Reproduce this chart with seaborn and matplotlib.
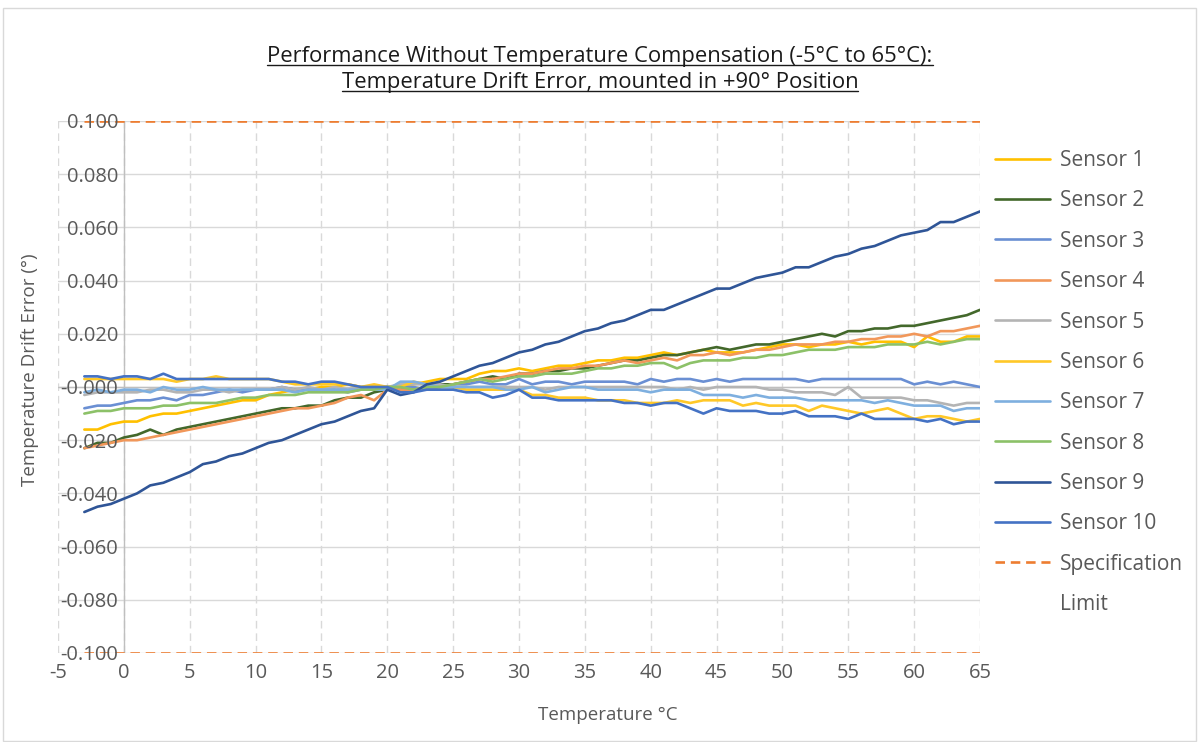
import matplotlib
matplotlib.use("Agg")
import matplotlib.pyplot as plt
from matplotlib.lines import Line2D
from matplotlib.patches import Rectangle
import seaborn as sns
import pandas as pd

# ---------------- data ----------------
temperature = list(range(-3, 66))

sensor_1 = [-0.016, -0.016, -0.014, -0.013, -0.013, -0.011, -0.010, -0.010, -0.009, -0.008,
            -0.007, -0.006, -0.005, -0.005, -0.003, -0.002, -0.001, -0.001, 0.000, 0.000,
            0.001, 0.000, 0.000, 0.000, 0.000, 0.001, 0.002, 0.003, 0.003, 0.003,
            0.005, 0.006, 0.006, 0.007, 0.006, 0.007, 0.008, 0.008, 0.009, 0.010,
            0.010, 0.011, 0.011, 0.012, 0.013, 0.012, 0.013, 0.014, 0.013, 0.013,
            0.013, 0.014, 0.015, 0.016, 0.016, 0.015, 0.016, 0.016, 0.017, 0.016,
            0.017, 0.017, 0.017, 0.015, 0.019, 0.017, 0.017, 0.019, 0.019]
sensor_2 = [-0.023, -0.021, -0.021, -0.019, -0.018, -0.016, -0.018, -0.016, -0.015, -0.014,
            -0.013, -0.012, -0.011, -0.010, -0.009, -0.008, -0.008, -0.007, -0.007, -0.005,
            -0.004, -0.004, -0.002, -0.001, -0.001, -0.001, 0.000, 0.001, 0.001, 0.002,
            0.003, 0.004, 0.003, 0.005, 0.005, 0.006, 0.006, 0.007, 0.007, 0.008,
            0.009, 0.010, 0.010, 0.011, 0.012, 0.012, 0.013, 0.014, 0.015, 0.014,
            0.015, 0.016, 0.016, 0.017, 0.018, 0.019, 0.020, 0.019, 0.021, 0.021,
            0.022, 0.022, 0.023, 0.023, 0.024, 0.025, 0.026, 0.027, 0.029]
sensor_3 = [-0.008, -0.007, -0.007, -0.006, -0.005, -0.005, -0.004, -0.005, -0.003, -0.003,
            -0.002, -0.001, -0.002, -0.001, -0.001, 0.000, -0.001, -0.001, -0.001, -0.001,
            -0.002, -0.001, 0.000, 0.000, 0.000, 0.000, -0.001, 0.000, 0.001, 0.001,
            0.002, 0.001, 0.001, 0.003, 0.001, 0.002, 0.002, 0.001, 0.002, 0.002,
            0.002, 0.002, 0.001, 0.003, 0.002, 0.003, 0.003, 0.002, 0.003, 0.002,
            0.003, 0.003, 0.003, 0.003, 0.003, 0.002, 0.003, 0.003, 0.003, 0.003,
            0.003, 0.003, 0.003, 0.001, 0.002, 0.001, 0.002, 0.001, 0.000]
sensor_4 = [-0.023, -0.022, -0.021, -0.020, -0.020, -0.019, -0.018, -0.017, -0.016, -0.015,
            -0.014, -0.013, -0.012, -0.011, -0.010, -0.009, -0.008, -0.008, -0.007, -0.006,
            -0.004, -0.003, -0.005, -0.001, -0.001, -0.001, 0.000, 0.000, 0.001, 0.002,
            0.003, 0.003, 0.004, 0.005, 0.005, 0.006, 0.007, 0.007, 0.008, 0.008,
            0.009, 0.010, 0.009, 0.010, 0.011, 0.010, 0.012, 0.012, 0.013, 0.012,
            0.013, 0.014, 0.014, 0.015, 0.016, 0.016, 0.016, 0.017, 0.017, 0.018,
            0.018, 0.019, 0.019, 0.020, 0.019, 0.021, 0.021, 0.022, 0.023]
sensor_5 = [-0.003, -0.002, -0.002, -0.002, -0.002, -0.001, -0.001, -0.002, -0.002, -0.001,
            -0.001, -0.002, -0.001, -0.001, -0.001, 0.000, -0.001, 0.000, -0.001, 0.000,
            -0.001, 0.000, 0.000, 0.000, 0.001, 0.001, 0.001, 0.001, 0.000, 0.000,
            0.000, 0.000, 0.000, 0.000, 0.000, -0.001, 0.000, 0.000, 0.000, 0.000,
            0.000, 0.000, 0.000, 0.000, 0.000, -0.001, 0.000, -0.001, 0.000, 0.000,
            0.000, 0.000, -0.001, -0.001, -0.002, -0.002, -0.002, -0.003, 0.000, -0.004,
            -0.004, -0.004, -0.004, -0.005, -0.005, -0.006, -0.007, -0.006, -0.006]
sensor_6 = [0.003, 0.003, 0.003, 0.003, 0.003, 0.003, 0.003, 0.002, 0.003, 0.003,
            0.004, 0.003, 0.003, 0.003, 0.003, 0.002, 0.001, 0.001, 0.001, 0.001,
            0.001, 0.000, 0.001, 0.000, 0.000, 0.002, 0.001, 0.000, 0.000, -0.001,
            -0.001, -0.001, -0.001, -0.001, -0.003, -0.003, -0.004, -0.004, -0.004, -0.005,
            -0.005, -0.005, -0.006, -0.006, -0.006, -0.005, -0.006, -0.005, -0.005, -0.005,
            -0.007, -0.006, -0.007, -0.007, -0.007, -0.009, -0.007, -0.008, -0.009, -0.010,
            -0.009, -0.008, -0.010, -0.012, -0.011, -0.011, -0.012, -0.013, -0.012]
sensor_7 = [-0.002, -0.001, -0.002, -0.001, -0.001, -0.002, 0.000, -0.001, -0.001, 0.000,
            -0.001, -0.001, -0.001, -0.001, -0.001, -0.001, -0.002, -0.001, -0.001, -0.001,
            -0.001, -0.001, -0.001, -0.001, 0.002, 0.002, 0.001, 0.000, 0.000, 0.000,
            0.000, 0.000, -0.001, -0.001, 0.000, -0.002, -0.001, 0.000, 0.000, -0.001,
            -0.001, -0.001, -0.001, -0.002, -0.001, -0.001, -0.001, -0.003, -0.003, -0.003,
            -0.004, -0.003, -0.004, -0.004, -0.004, -0.005, -0.005, -0.005, -0.005, -0.005,
            -0.006, -0.005, -0.006, -0.007, -0.007, -0.007, -0.009, -0.008, -0.008]
sensor_8 = [-0.010, -0.009, -0.009, -0.008, -0.008, -0.008, -0.007, -0.007, -0.006, -0.006,
            -0.006, -0.005, -0.004, -0.004, -0.003, -0.003, -0.003, -0.002, -0.002, -0.002,
            -0.002, -0.001, -0.001, 0.000, 0.000, -0.001, 0.000, 0.000, 0.001, 0.002,
            0.003, 0.002, 0.003, 0.004, 0.004, 0.005, 0.005, 0.005, 0.006, 0.007,
            0.007, 0.008, 0.008, 0.009, 0.009, 0.007, 0.009, 0.010, 0.010, 0.010,
            0.011, 0.011, 0.012, 0.012, 0.013, 0.014, 0.014, 0.014, 0.015, 0.015,
            0.015, 0.016, 0.016, 0.016, 0.017, 0.016, 0.017, 0.018, 0.018]
sensor_9 = [-0.047, -0.045, -0.044, -0.042, -0.040, -0.037, -0.036, -0.034, -0.032, -0.029,
            -0.028, -0.026, -0.025, -0.023, -0.021, -0.020, -0.018, -0.016, -0.014, -0.013,
            -0.011, -0.009, -0.008, -0.001, -0.003, -0.002, 0.001, 0.002, 0.004, 0.006,
            0.008, 0.009, 0.011, 0.013, 0.014, 0.016, 0.017, 0.019, 0.021, 0.022,
            0.024, 0.025, 0.027, 0.029, 0.029, 0.031, 0.033, 0.035, 0.037, 0.037,
            0.039, 0.041, 0.042, 0.043, 0.045, 0.045, 0.047, 0.049, 0.050, 0.052,
            0.053, 0.055, 0.057, 0.058, 0.059, 0.062, 0.062, 0.064, 0.066]
sensor_10 = [0.004, 0.004, 0.003, 0.004, 0.004, 0.003, 0.005, 0.003, 0.003, 0.003,
             0.003, 0.003, 0.003, 0.003, 0.003, 0.002, 0.002, 0.001, 0.002, 0.002,
             0.001, 0.000, 0.000, 0.000, -0.002, -0.002, -0.001, -0.001, -0.001, -0.002,
             -0.002, -0.004, -0.003, -0.001, -0.004, -0.004, -0.005, -0.005, -0.005, -0.005,
             -0.005, -0.006, -0.006, -0.007, -0.006, -0.006, -0.008, -0.010, -0.008, -0.009,
             -0.009, -0.009, -0.010, -0.010, -0.009, -0.011, -0.011, -0.011, -0.012, -0.010,
             -0.012, -0.012, -0.012, -0.012, -0.013, -0.012, -0.014, -0.013, -0.013]

sensor_names = ["Sensor 1", "Sensor 2", "Sensor 3", "Sensor 4", "Sensor 5",
                "Sensor 6", "Sensor 7", "Sensor 8", "Sensor 9", "Sensor 10"]
sensor_values = [sensor_1, sensor_2, sensor_3, sensor_4, sensor_5,
                 sensor_6, sensor_7, sensor_8, sensor_9, sensor_10]

spec_x = [-3, 65]
spec_limits = [0.100, -0.100]

x_ticks = [-5, 0, 5, 10, 15, 20, 25, 30, 35, 40, 45, 50, 55, 60, 65]
x_tick_labels = ["-5", "0", "5", "10", "15", "20", "25", "30", "35", "40",
                 "45", "50", "55", "60", "65"]
y_ticks = [-0.100, -0.080, -0.060, -0.040, -0.020, 0.000, 0.020, 0.040, 0.060, 0.080, 0.100]
y_tick_labels = ["-0.100", "-0.080", "-0.060", "-0.040", "-0.020", "-0.000",
                 "0.020", "0.040", "0.060", "0.080", "0.100"]

title_lines = ["Performance Without Temperature Compensation (-5°C to 65°C):",
               "Temperature Drift Error, mounted in +90° Position"]
x_label = "Temperature °C"
y_label = "Temperature Drift Error (°)"

colors = ["#FFC000", "#43682B", "#6A8FD3", "#F1975A", "#B4B4B4",
          "#FFC828", "#7EAFDF", "#8CC168", "#2F5597", "#4472C4"]
spec_color = "#ED7D31"

# ---------------- frame ----------------
rows = []
for name, vals in zip(sensor_names, sensor_values):
    for t, v in zip(temperature, vals):
        rows.append({"Temperature": t, "Error": v, "Sensor": name})
df = pd.DataFrame(rows)

spec_rows = []
for i, lim in enumerate(spec_limits):
    for t in spec_x:
        spec_rows.append({"Temperature": t, "Error": lim, "Limit": f"L{i}"})
spec_df = pd.DataFrame(spec_rows)

sns.set_theme(style="white")
plt.rcParams["font.family"] = ["Open Sans", "DejaVu Sans"]
plt.rcParams["axes.unicode_minus"] = False

fig = plt.figure(figsize=(12, 7.42), dpi=100)
W, H = 1200, 742
ax = fig.add_axes([58 / W, 1 - 653 / H, 922 / W, 532 / H])

LW = 1.9
dash = (3.6, 2.2)

# gridlines (drawn below the data, from the tick lists)
for yv in y_ticks:
    ax.axhline(yv, color="#D9D9D9", linewidth=1.0, zorder=0.5)
for xv in x_ticks:
    ax.axvline(xv, color="#D9D9D9", linewidth=1.0, linestyle=(0, (5.5, 3.5)), zorder=0.5)
ax.axhline(0, color="#BFBFBF", linewidth=1.0, zorder=0.8)
ax.axvline(0, color="#BFBFBF", linewidth=1.0, zorder=0.8)

sns.lineplot(data=df, x="Temperature", y="Error", hue="Sensor",
             hue_order=sensor_names, palette=dict(zip(sensor_names, colors)),
             linewidth=LW, legend=False, ax=ax, zorder=2)
n_before = len(ax.lines)
sns.lineplot(data=spec_df, x="Temperature", y="Error", units="Limit", estimator=None,
             color=spec_color, linewidth=LW, legend=False, ax=ax, zorder=2.2)
for ln in ax.lines[n_before:]:
    ln.set_dashes(dash)

ax.set_xlim(-5, 65)
ax.set_ylim(-0.100, 0.100)
ax.set_xticks(x_ticks)
ax.set_xticklabels(x_tick_labels)
ax.set_yticks(y_ticks)
ax.set_yticklabels(y_tick_labels)
ax.grid(False)
ax.set_axisbelow(False)

for s in ["top", "right", "bottom", "left"]:
    ax.spines[s].set_visible(False)
ax.spines["left"].set_position(("data", 0))

ax.tick_params(axis="both", length=0, labelsize=14.5, labelcolor="#595959")
ax.tick_params(axis="y", pad=4)
ax.tick_params(axis="x", pad=7)
ax.yaxis.set_zorder(3)
ax.xaxis.set_zorder(3)
ax.set_xlabel("")
ax.set_ylabel("")
ax.patch.set_alpha(0)

fig.text(30 / W, 1 - 370 / H, y_label, rotation=90, ha="center", va="center",
         fontsize=13.5, color="#595959")
fig.text(608 / W, 1 - 715 / H, x_label, ha="center", va="center",
         fontsize=13.5, color="#595959")

# title with underline
title_texts = []
baselines = [62, 88]
for line, b in zip(title_lines, baselines):
    t = fig.text(0.5, 1 - b / H, line, ha="center", va="baseline",
                 fontsize=15.8, color="#1A1A1A")
    title_texts.append(t)

# legend
handles = [Line2D([0], [0], color=c, linewidth=LW) for c in colors]
handles.append(Line2D([0], [0], color=spec_color, linewidth=LW, dashes=dash))
handles.append(Line2D([0], [0], color="none", linewidth=LW))
labels = sensor_names + ["Specification", "Limit"]
fig.legend(handles, labels, loc="upper left", bbox_to_anchor=(995 / W, 1 - 150 / H),
           frameon=False, fontsize=15, labelcolor="#595959",
           handlelength=2.64, handletextpad=0.48, labelspacing=0.93,
           borderpad=0, borderaxespad=0)

# chart border
fig.add_artist(Rectangle((3 / W, 1 / H), 1193 / W, 733 / H, transform=fig.transFigure,
                         fill=False, edgecolor="#D9D9D9", linewidth=1.0))

fig.canvas.draw()
r = fig.canvas.get_renderer()
for t, b in zip(title_texts, baselines):
    bb = t.get_window_extent(renderer=r)
    yb = H - b - 3
    fig.add_artist(Line2D([bb.x0, bb.x1], [yb, yb], transform=None,
                          color="#1A1A1A", linewidth=1.0))

fig.savefig("out.png", dpi=100)
